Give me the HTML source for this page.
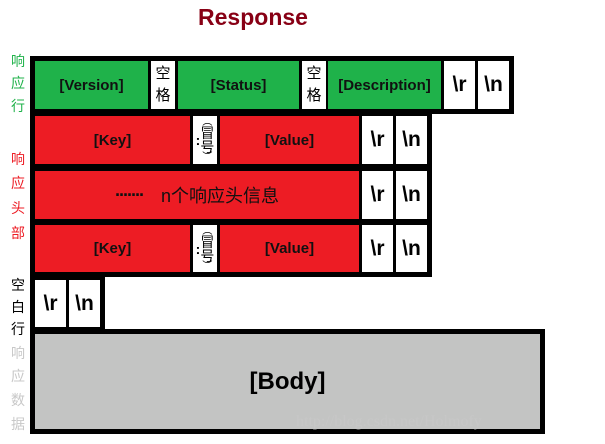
<!DOCTYPE html>
<html><head><meta charset="utf-8"><style>
body{margin:0;width:605px;height:444px;background:#fff;position:relative;overflow:hidden;font-family:"Liberation Sans","Noto Sans CJK SC",sans-serif}
div{position:absolute;box-sizing:border-box}
.b{background:#000}
.c{display:flex;align-items:center;justify-content:center;font-weight:bold;color:#111;font-size:15px}
.g{background:#1fb24a}
.r{background:#ed1c24}
.w{background:#fff}
.rn{font-size:21px;font-weight:bold;color:#000}
.sp{font-size:15px;font-weight:normal;flex-direction:column;line-height:22px;color:#000}
.l{left:10px;width:16px;font-size:14px;text-align:center;line-height:16px}
.co{font-weight:normal;font-size:14px;line-height:14px;color:#000}
</style></head><body>
<div style="left:180px;top:4px;width:146px;text-align:center;font-size:23px;font-weight:bold;color:#880015">Response</div>

<div class="l" style="top:53px;color:#1fb24a">响</div>
<div class="l" style="top:75px;color:#1fb24a">应</div>
<div class="l" style="top:98px;color:#1fb24a">行</div>
<div class="l" style="top:151px;color:#ed1c24">响</div>
<div class="l" style="top:175px;color:#ed1c24">应</div>
<div class="l" style="top:200px;color:#ed1c24">头</div>
<div class="l" style="top:225px;color:#ed1c24">部</div>
<div class="l" style="top:277px;color:#000">空</div>
<div class="l" style="top:299px;color:#000">白</div>
<div class="l" style="top:321px;color:#000">行</div>
<div class="l" style="top:345px;color:#c8c8c8">响</div>
<div class="l" style="top:368px;color:#c8c8c8">应</div>
<div class="l" style="top:392px;color:#c8c8c8">数</div>
<div class="l" style="top:416px;color:#c8c8c8">据</div>

<div class="b" style="left:30px;top:56px;width:484px;height:58px"></div>
<div class="c g" style="left:35px;top:61px;width:113px;height:48px">[Version]</div>
<div class="c w sp" style="left:151px;top:61px;width:24px;height:48px"><span>空</span><span>格</span></div>
<div class="c g" style="left:178px;top:61px;width:121px;height:48px">[Status]</div>
<div class="c w sp" style="left:302px;top:61px;width:24px;height:48px"><span>空</span><span>格</span></div>
<div class="c g" style="left:328px;top:61px;width:113px;height:48px">[Description]</div>
<div class="c w rn" style="left:444px;top:61px;width:31px;height:48px">\r</div>
<div class="c w rn" style="left:478px;top:61px;width:31px;height:48px">\n</div>

<div class="b" style="left:30px;top:112px;width:402px;height:165px"></div>
<div class="c r" style="left:35px;top:116px;width:155px;height:48px">[Key]</div>
<div class="c w co" style="left:193px;top:116px;width:24px;height:48px"><span style="font-weight:bold">:</span><span style="display:flex;flex-direction:column;align-items:center"><span style="font-size:10px;line-height:7px">︵</span>冒<br>号<span style="font-size:10px;line-height:7px">︶</span></span></div>
<div class="c r" style="left:220px;top:116px;width:139px;height:48px">[Value]</div>
<div class="c w rn" style="left:362px;top:116px;width:31px;height:48px">\r</div>
<div class="c w rn" style="left:396px;top:116px;width:31px;height:48px">\n</div>

<div class="c r" style="left:35px;top:171px;width:324px;height:48px;font-weight:normal;font-size:18px;color:#111"><span style="font-weight:bold;font-size:18px;margin-right:18px;letter-spacing:-2px">·······</span>n个响应头信息</div>
<div class="c w rn" style="left:362px;top:171px;width:31px;height:48px">\r</div>
<div class="c w rn" style="left:396px;top:171px;width:31px;height:48px">\n</div>

<div class="c r" style="left:35px;top:225px;width:155px;height:47px">[Key]</div>
<div class="c w co" style="left:193px;top:225px;width:24px;height:47px"><span style="font-weight:bold">:</span><span style="display:flex;flex-direction:column;align-items:center"><span style="font-size:10px;line-height:7px">︵</span>冒<br>号<span style="font-size:10px;line-height:7px">︶</span></span></div>
<div class="c r" style="left:220px;top:225px;width:139px;height:47px">[Value]</div>
<div class="c w rn" style="left:362px;top:225px;width:31px;height:47px">\r</div>
<div class="c w rn" style="left:396px;top:225px;width:31px;height:47px">\n</div>

<div class="b" style="left:30px;top:272px;width:75px;height:60px"></div>
<div class="c w rn" style="left:35px;top:280px;width:31px;height:47px">\r</div>
<div class="c w rn" style="left:69px;top:280px;width:31px;height:47px">\n</div>

<div class="b" style="left:30px;top:329px;width:515px;height:105px"></div>
<div class="c" style="left:35px;top:334px;width:505px;height:95px;background:#c3c4c3;font-size:24px;color:#000">[Body]</div>
<div style="left:296px;top:413px;font-family:'Liberation Serif',serif;font-size:16px;color:rgba(200,200,200,0.8)">http://blog.csdn.net/Holmofy</div>
</body></html>
